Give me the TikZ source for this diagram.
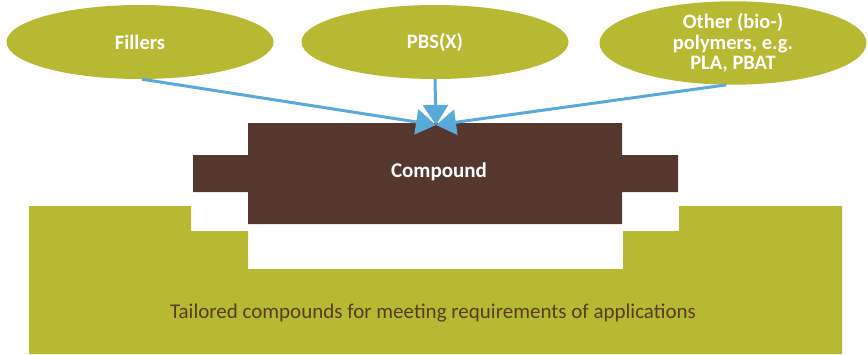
\documentclass[tikz,border=0pt]{standalone}
\usepackage{fontspec}
\setmainfont{Carlito}
\usetikzlibrary{shapes.geometric,arrows.meta}
\definecolor{olive}{HTML}{B8B933}
\definecolor{compoundbrown}{HTML}{56372D}
\definecolor{feedblue}{HTML}{5AA9DB}
\definecolor{textbrown}{HTML}{5A3B1E}
\begin{document}
\begin{tikzpicture}[x=1pt,y=-1pt,
  feed/.style={ellipse, fill=olive, minimum width=267pt, minimum height=74pt, inner sep=0pt,
    text=white, font=\fontsize{20.5}{20.5}\selectfont\bfseries, align=center},
  flow/.style={draw=feedblue, line width=3pt, -{Triangle[length=20pt,width=25pt]}}]
\useasboundingbox (0,0) rectangle (868,354);
% base block with the notch
\fill[olive] (29,206) -- (191,206) -- (191,231) -- (248,231) -- (248,269) -- (623,269)
  -- (623,231) -- (679,231) -- (679,206) -- (842,206) -- (842,354) -- (29,354) -- cycle;
\node[text=textbrown, font=\fontsize{21}{24}\selectfont] (tailored) at (433,313) {Tailored compounds for meeting requirements of applications};
% compound block
\fill[compoundbrown] (248,123) -- (622,123) -- (622,155) -- (678,155) -- (678,192) -- (622,192)
  -- (622,224) -- (248,224) -- (248,192) -- (193,192) -- (193,155) -- (248,155) -- cycle;
\node[text=white, font=\fontsize{21}{24}\selectfont\bfseries] (compound) at (439,172) {Compound};
% inputs
\node[feed] (fillers) at (140,42) {Fillers};
\node[feed] (pbsx) at (435,42) {PBS(X)};
\node[feed] (other) at (733,43) {Other (bio-)\\polymers, e.g.\\PLA, PBAT};
\coordinate (tip) at (436,125);
\draw[flow] (fillers.273) -- (tip);
\draw[flow] (pbsx.south) -- (tip);
\draw[flow] (other.261) -- (tip);
\end{tikzpicture}
\end{document}
